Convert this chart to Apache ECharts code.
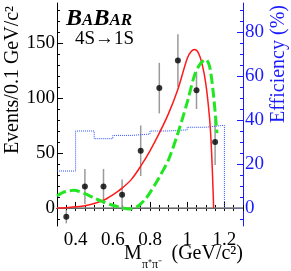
<!DOCTYPE html>
<html><head><meta charset="utf-8">
<script src="https://cdn.jsdelivr.net/npm/echarts@6/dist/echarts.min.js"></script>
<style>html,body{margin:0;padding:0;background:#fff}#c{width:291px;height:271px}</style>
</head><body><div id="c"></div>
<script>
// ---- data ----
const binCenters = [0.35,0.45,0.55,0.65,0.75,0.85,0.95,1.05,1.15];
const counts     = [-8, 19.5, 19.5, 12, 52, 109, 134, 107, 60];
const errors     = [6, 16, 16, 14, 23, 23, 24, 17, 21];
const effEdges   = [0.3,0.4,0.5,0.6,0.7,0.8,0.9,1.0,1.1,1.2,1.3];
const effValues  = [16.8,35,31.5,33,33.6,35,35.5,36.7,37.6,0,0];
const redX   = [0.30,0.35,0.40,0.45,0.50,0.55,0.60,0.65,0.70,0.75,0.80,0.85,0.90,0.95,1.00,1.02,1.04,1.06,1.08,1.10,1.12,1.13,1.14,1.142];
const redY   = [0,0.3,1,2,4,7,12,18,26,38,52,68,86,108,136,142,144,141,131,113,82,55,12,0];
const greenX = [0.30,0.33,0.36,0.39,0.42,0.45,0.50,0.55,0.60,0.65,0.69,0.73,0.77,0.80,0.85,0.90,0.95,1.00,1.04,1.07,1.10,1.12,1.14,1.16];
const greenY = [11,14,15.5,16,15,13,9,5.5,2.5,0,-1,1,7,14,28,44,68,96,121,131,135,129,105,68];
const xTickLabels = [0.4,0.6,0.8,1.0,1.2];
const yLeftTickLabels = [0,50,100,150];
const yLeftMinor = [-10,0,10,20,30,40,50,60,70,80,90,100,110,120,130,140,150,160,170,180];
const yRightTickLabels = [0,20,40,60,80];
const yRightMinor = [-5,0,5,10,15,20,25,30,35,40,45,50,55,60,65,70,75,80,85,90];

const FF = '"Liberation Serif","Times New Roman",serif';
const BLUE = '#1a1aff';
const zip = (a,b) => a.map((v,i)=>[v,b[i]]);

const chart = echarts.init(document.getElementById('c'), null, {renderer:'canvas'});
const common = {splitLine:{show:false}};
const bigB = 'bold italic 24px '+FF, smallC = 'bold italic 17px '+FF;
chart.setOption({
  animation:false,
  grid:{left:57,right:48,top:3,bottom:45},
  xAxis:[
    Object.assign({type:'value',min:0.3,max:1.3,position:'bottom',
      axisLine:{lineStyle:{color:'#000',width:1}},
      axisTick:{inside:true,length:6,customValues:xTickLabels,lineStyle:{color:'#000'}},
      axisLabel:{customValues:xTickLabels,fontFamily:FF,fontSize:19,color:'#000',margin:5}},common),
    Object.assign({type:'value',min:0.3,max:1.3,interval:0.05,position:'bottom',
      axisLine:{show:false},axisTick:{inside:true,length:3,lineStyle:{color:'#000'}},axisLabel:{show:false}},common),
    Object.assign({type:'value',min:0.3,max:1.3,interval:0.05,position:'top',
      axisLine:{show:true,lineStyle:{color:'#000'}},axisTick:{inside:true,length:3,lineStyle:{color:'#000'}},axisLabel:{show:false}},common)
  ],
  yAxis:[
    Object.assign({type:'value',min:-16.4,max:186.4,position:'left',
      axisLine:{show:true,lineStyle:{color:'#000'}},
      axisTick:{show:true,inside:true,length:6,customValues:yLeftTickLabels,lineStyle:{color:'#000'}},
      axisLabel:{customValues:yLeftTickLabels,fontFamily:FF,fontSize:19,color:'#000',margin:2}},common),
    Object.assign({type:'value',min:-16.4,max:186.4,position:'left',
      axisLine:{show:false},axisTick:{show:true,inside:true,length:3,customValues:yLeftMinor,lineStyle:{color:'#000'}},axisLabel:{show:false}},common),
    Object.assign({type:'value',min:-8.2,max:93.2,position:'right',
      axisLine:{show:true,lineStyle:{color:BLUE}},
      axisTick:{show:true,inside:true,length:6,customValues:yRightTickLabels,lineStyle:{color:BLUE}},
      axisLabel:{customValues:yRightTickLabels,fontFamily:FF,fontSize:19,color:BLUE,margin:2}},common),
    Object.assign({type:'value',min:-8.2,max:93.2,position:'right',
      axisLine:{show:false},axisTick:{show:true,inside:true,length:3,customValues:yRightMinor,lineStyle:{color:BLUE}},axisLabel:{show:false}},common)
  ],
  series:[
    {type:'line',name:'eff',yAxisIndex:2,step:'end',symbol:'none',
      data:zip(effEdges,effValues),lineStyle:{color:'#3050ff',width:1,type:'dotted'}},
    {type:'line',name:'zero',symbol:'none',data:[[0.3,0],[1.3,0]],lineStyle:{color:'#888',width:1.5}},
    {type:'custom',name:'err',data:binCenters.map((x,i)=>[x,counts[i],errors[i]]),
      renderItem:(p,api)=>{const x=api.value(0),y=api.value(1),e=api.value(2);
        const a=api.coord([x,y-e]),b=api.coord([x,y+e]);
        return {type:'line',shape:{x1:a[0],y1:a[1],x2:b[0],y2:b[1]},style:{stroke:'#9a9a9a',lineWidth:1.5}};}},
    {type:'line',name:'red',symbol:'none',smooth:0.3,data:zip(redX,redY),lineStyle:{color:'#ff1a1a',width:1.5}},
    {type:'line',name:'green',symbol:'none',smooth:0.3,data:zip(greenX,greenY),lineStyle:{color:'#22e622',width:3,type:[10,4]}},
    {type:'scatter',name:'pts',symbol:'circle',symbolSize:6,data:zip(binCenters,counts),itemStyle:{color:'#000'}}
  ],
  graphic:[
    {type:'text',x:66,y:31,style:{text:'B',font:bigB,fill:'#000',verticalAlign:'bottom'}},
    {type:'text',x:82,y:29.6,style:{text:'A',font:smallC,fill:'#000',verticalAlign:'bottom'}},
    {type:'text',x:93.5,y:31,style:{text:'B',font:bigB,fill:'#000',verticalAlign:'bottom'}},
    {type:'text',x:109.5,y:29.6,style:{text:'AR',font:smallC,fill:'#000',verticalAlign:'bottom'}},
    {type:'text',x:75,y:39,style:{text:'4S\u21921S',font:'19px '+FF,fill:'#000',verticalAlign:'middle'}},
    {type:'text',x:13,y:80,rotation:Math.PI/2,style:{text:'Events/0.1 GeV/c\u00b2',font:'20px '+FF,fill:'#000',align:'center',verticalAlign:'middle'}},
    {type:'text',x:279,y:64,rotation:Math.PI/2,style:{text:'Efficiency (%)',font:'20px '+FF,fill:BLUE,align:'center',verticalAlign:'middle'}},
    {type:'text',x:124,y:254,style:{text:'M',font:'20px '+FF,fill:'#000',verticalAlign:'middle'}},
    {type:'text',x:142,y:265,style:{text:'\u03c0\u207a\u03c0\u207b',font:'12px '+FF,fill:'#000',verticalAlign:'middle'}},
    {type:'text',x:243,y:254,style:{text:'(GeV/c\u00b2)',font:'20px '+FF,fill:'#000',align:'right',verticalAlign:'middle'}}
  ]
});
</script></body></html>
